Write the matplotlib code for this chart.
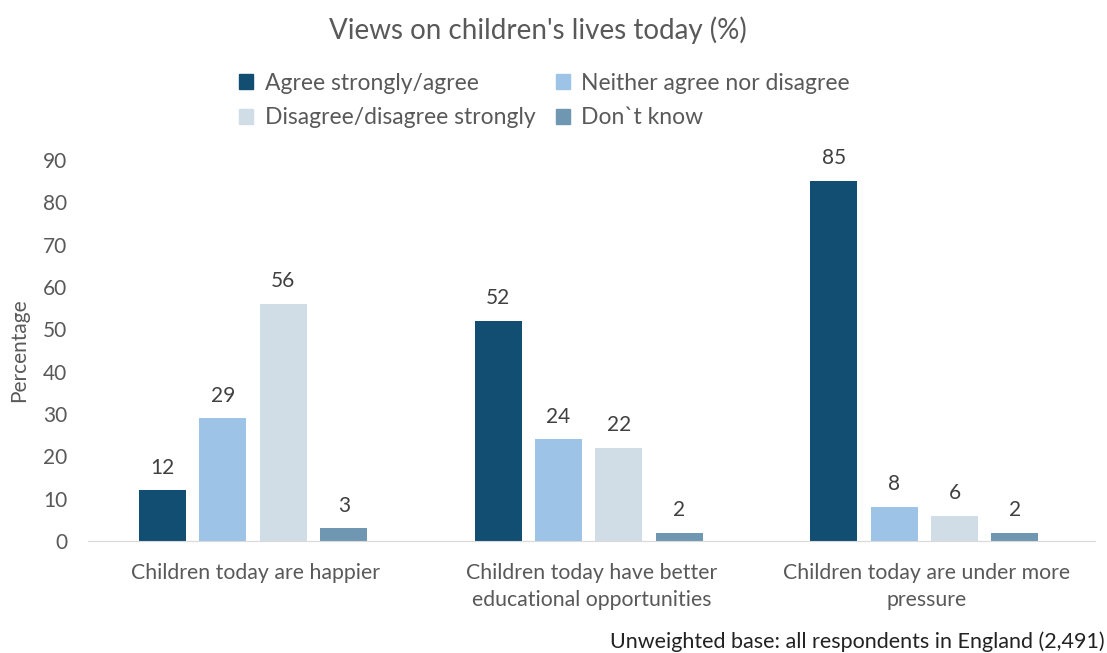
import matplotlib.pyplot as plt
import numpy as np
from matplotlib.patches import Patch

categories = ["Children today are happier",
              "Children today have better\neducational opportunities",
              "Children today are under more\npressure"]
series = ["Agree strongly/agree", "Neither agree nor disagree",
          "Disagree/disagree strongly", "Don`t know"]
agree = [12, 52, 85]
neither = [29, 24, 8]
disagree = [56, 22, 6]
dont_know = [3, 2, 2]
colors = ["#124e72", "#9dc3e6", "#d0dde6", "#7097b1"]

plt.rcParams['font.family'] = ['Lato', 'DejaVu Sans']
txt = "#595959"

fig = plt.figure(figsize=(11.07, 6.53), dpi=100)
ax = fig.add_axes([0.0795, 0.1715, 0.9095, 0.5835])

x = np.arange(len(categories))
step = 0.18
width = 0.14
values = [agree, neither, disagree, dont_know]
for i, vals in enumerate(values):
    pos = x + (i - 1.5) * step - 0.008
    bars = ax.bar(pos, vals, width, color=colors[i])
    for b, v in zip(bars, vals):
        ax.text(b.get_x() + b.get_width() / 2, v + 3, str(v), ha="center",
                va="bottom", fontsize=15, color="#404040")

ax.set_xlim(-0.5, 2.5)
ax.set_ylim(0, 90)
ax.set_yticks(range(0, 91, 10))
ax.set_xticks(x)
ax.set_xticklabels(categories, fontsize=15.3, color=txt, linespacing=1.4)
ax.tick_params(axis="y", labelsize=15, labelcolor=txt, length=0, pad=15)
ax.tick_params(axis="x", length=0, pad=16)
for s in ["top", "right", "left"]:
    ax.spines[s].set_visible(False)
ax.spines["bottom"].set_color("#d9d9d9")
ax.set_ylabel("Percentage", fontsize=15, color=txt, labelpad=10)

fig.text(0.486, 0.953, "Views on children's lives today (%)", ha="center",
         va="center", fontsize=20, color=txt)

# matplotlib fills legend columns first, so reorder to get row-wise layout
order = [0, 2, 1, 3]
handles = [Patch(color=colors[i]) for i in order]
labels = [series[i] for i in order]
fig.legend(handles, labels, loc="center", bbox_to_anchor=(0.492, 0.846), ncol=2,
           frameon=False, fontsize=16.5, labelcolor=txt, handlelength=0.6,
           handleheight=0.6, handletextpad=0.5, columnspacing=0.9,
           labelspacing=0.6)

fig.text(0.998, 0.018, "Unweighted base: all respondents in England (2,491)",
         ha="right", va="center", fontsize=15.5, color="#222222")

fig.savefig("out.png", dpi=100)
